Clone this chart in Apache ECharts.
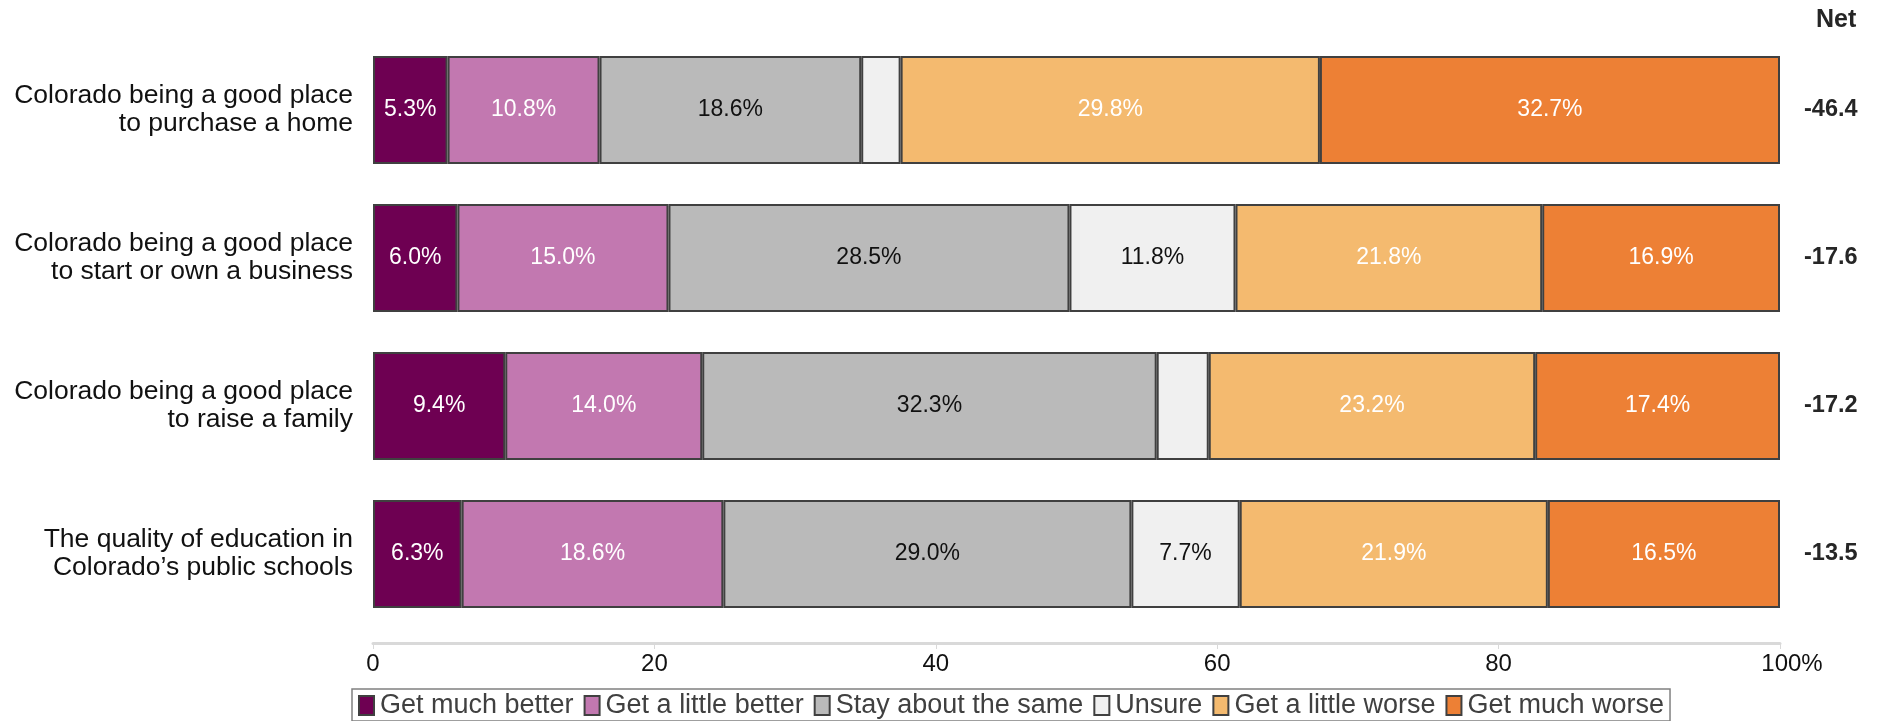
<!DOCTYPE html>
<html><head><meta charset="utf-8">
<script src="https://cdn.jsdelivr.net/npm/echarts@6/dist/echarts.min.js"></script>
<style>html,body{margin:0;padding:0;background:#fff}#c{width:1882px;height:721px}</style>
</head><body><div id="c"></div>
<script>
const categories = [
  "Colorado being a good place\nto purchase a home",
  "Colorado being a good place\nto start or own a business",
  "Colorado being a good place\nto raise a family",
  "The quality of education in\nColorado’s public schools"
];
const seriesNames = ["Get much better","Get a little better","Stay about the same","Unsure","Get a little worse","Get much worse"];
const getMuchBetter   = [5.3, 6.0, 9.4, 6.3];
const getLittleBetter = [10.8, 15.0, 14.0, 18.6];
const stayTheSame     = [18.6, 28.5, 32.3, 29.0];
const unsure          = [2.8, 11.8, 3.7, 7.7];
const getLittleWorse  = [29.8, 21.8, 23.2, 21.9];
const getMuchWorse    = [32.7, 16.9, 17.4, 16.5];
const netLabels = ["-46.4", "-17.6", "-17.2", "-13.5"];
const xTicks = [0, 20, 40, 60, 80, 100];

const values = [getMuchBetter, getLittleBetter, stayTheSame, unsure, getLittleWorse, getMuchWorse];
const colors = ["#6e0052", "#c278b0", "#bababa", "#f0f0f0", "#f4ba6f", "#ed8035"];
const labelColors = ["#ffffff", "#ffffff", "#111111", "#111111", "#ffffff", "#ffffff"];
const FONT = "Liberation Sans, Arial, sans-serif";

const chart = echarts.init(document.getElementById('c'), null, {renderer: 'canvas'});
chart.setOption({
  animation: false,
  backgroundColor: '#ffffff',
  title: {
    text: 'Net', left: 1811, top: 3,
    textStyle: {fontFamily: FONT, fontSize: 25, fontWeight: 'bold', color: '#262626'}
  },
  legend: {
    bottom: 0, left: 352,
    data: seriesNames,
    icon: 'rect', itemWidth: 15, itemHeight: 19, itemGap: 10,
    borderColor: '#808080', borderWidth: 1.5, padding: [3, 6, 2, 6],
    textStyle: {fontFamily: FONT, fontSize: 27, color: '#404040', padding: [0,0,0,1]},
    itemStyle: {borderColor: '#404040', borderWidth: 2}
  },
  grid: {left: 373, right: 102, top: 36, height: 592, containLabel: false},
  xAxis: {
    type: 'value', min: 0, max: 100, interval: 20, offset: 15,
    axisLine: {show: true, lineStyle: {color: '#d9d9d9', width: 3}},
    axisTick: {show: true, length: 6, lineStyle: {color: '#d9d9d9', width: 1}},
    splitLine: {show: false},
    axisLabel: {
      fontFamily: FONT, fontSize: 24, color: '#111', margin: 9,
      formatter: v => xTicks.indexOf(v) >= 0 ? (v === 100 ? '{p|100%}' : String(v)) : '',
      rich: {p: {fontFamily: FONT, fontSize: 24, color: '#111', padding: [0, 0, 0, 24]}}
    }
  },
  yAxis: [{
    type: 'category', data: categories, inverse: true,
    axisLine: {show: false}, axisTick: {show: false},
    axisLabel: {fontFamily: FONT, fontSize: 26.5, color: '#111', margin: 20, lineHeight: 28, align: 'right'}
  }, {
    type: 'category', data: netLabels, inverse: true, position: 'right',
    axisLine: {show: false}, axisTick: {show: false},
    axisLabel: {fontFamily: FONT, fontSize: 23.5, fontWeight: 'bold', color: '#262626', margin: 24, align: 'left'}
  }],
  series: seriesNames.map((name, i) => ({
    name, type: 'bar', stack: 'total', yAxisIndex: 0,
    barWidth: 108,
    data: values[i],
    itemStyle: {color: colors[i], borderColor: '#404040', borderWidth: 2},
    label: {
      show: true, position: 'inside',
      fontFamily: FONT, fontSize: 23, color: labelColors[i],
      formatter: p => p.value < 4 ? '' : p.value.toFixed(1) + '%'
    }
  }))
});
</script></body></html>
